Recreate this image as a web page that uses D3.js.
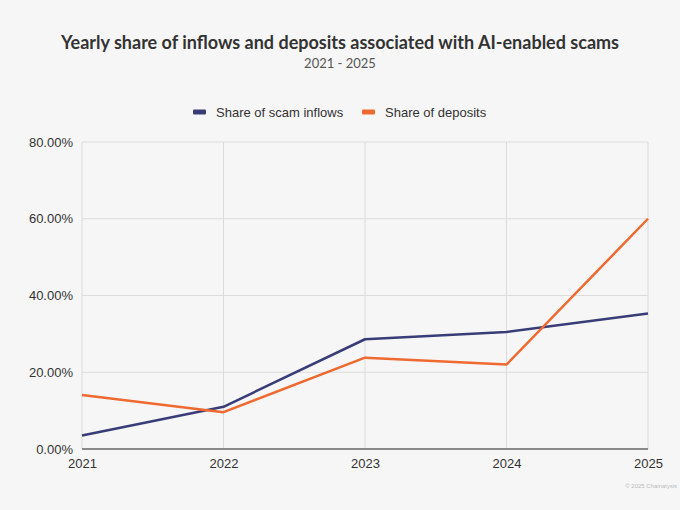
<!DOCTYPE html>
<html>
<head>
<meta charset="utf-8">
<script src="https://cdn.jsdelivr.net/npm/d3@7"></script>
<style>
  html, body { margin: 0; padding: 0; background: #f6f6f6; }
  svg { display: block; }
</style>
</head>
<body>
<div id="chart"></div>
<script>
// Chart values
const years = [2021, 2022, 2023, 2024, 2025];
const scamInflows = [3.5, 11.0, 28.6, 30.5, 35.3];
const deposits = [14.1, 9.6, 23.8, 22.0, 60.0];
const yTicks = [0, 20, 40, 60, 80];
const seriesNames = ['Share of scam inflows', 'Share of deposits'];
const seriesColors = ['#383d78', '#ef6a30'];

const width = 680;
const height = 510;
const margin = {top: 142, right: 32, bottom: 61, left: 82};

const svg = d3.select('#chart')
  .append('svg')
  .attr('width', width)
  .attr('height', height)
  .style('background', '#f6f6f6');

// Title block
svg.append('text')
  .text('Yearly share of inflows and deposits associated with AI-enabled scams')
  .attr('x', 340)
  .attr('y', 49)
  .style('text-anchor', 'middle')
  .style('font-family', 'Lato, "Noto Sans", sans-serif')
  .style('font-weight', 700)
  .style('font-size', '18px')
  .style('fill', '#333');

svg.append('text')
  .text('2021 - 2025')
  .attr('x', 340)
  .attr('y', 68)
  .style('text-anchor', 'middle')
  .style('font-family', 'Lato, "Noto Sans", sans-serif')
  .style('font-size', '13px')
  .style('fill', '#555');

// Scales
const x = d3.scaleLinear()
  .domain(d3.extent(years))
  .range([margin.left, width - margin.right]);
const y = d3.scaleLinear()
  .domain([0, 80])
  .range([height - margin.bottom, margin.top]);

const axisFont = '"Liberation Sans", Arial, sans-serif';

// Horizontal grid
svg.append('g')
  .selectAll('line')
  .data(yTicks)
  .enter()
  .append('line')
  .attr('x1', x.range()[0])
  .attr('x2', x.range()[1])
  .attr('y1', d => y(d))
  .attr('y2', d => y(d))
  .style('stroke', '#dcdcdc')
  .style('stroke-width', 1);

// Vertical grid
svg.append('g')
  .selectAll('line')
  .data(years)
  .enter()
  .append('line')
  .attr('x1', d => x(d))
  .attr('x2', d => x(d))
  .attr('y1', y(80))
  .attr('y2', y(0))
  .style('stroke', '#dcdcdc')
  .style('stroke-width', 1);

// Baseline
svg.append('line')
  .attr('x1', x.range()[0])
  .attr('x2', x.range()[1])
  .attr('y1', y(0))
  .attr('y2', y(0))
  .style('stroke', '#8a8a8a')
  .style('stroke-width', 2);

// Y axis labels
const yAxis = svg.append('g')
  .attr('transform', `translate(${margin.left - 6}, 0)`)
  .call(d3.axisLeft(y).tickValues(yTicks).tickSize(0).tickFormat(d => d.toFixed(2) + '%'));
yAxis.select('.domain').remove();
yAxis.selectAll('text')
  .style('font-family', axisFont)
  .style('font-size', '13px')
  .style('fill', '#333');

// X axis labels
const xAxis = svg.append('g')
  .attr('transform', `translate(0, ${y(0) + 7})`)
  .call(d3.axisBottom(x).tickValues(years).tickSize(0).tickFormat(d3.format('d')));
xAxis.select('.domain').remove();
xAxis.selectAll('text')
  .style('font-family', axisFont)
  .style('font-size', '13px')
  .style('fill', '#333');

// Lines
const line = d3.line()
  .x((d, i) => x(years[i]))
  .y(d => y(d));

[scamInflows, deposits].forEach((s, i) => {
  svg.append('path')
    .datum(s)
    .attr('d', line)
    .style('fill', 'none')
    .style('stroke', seriesColors[i])
    .style('stroke-width', 2.5)
    .style('stroke-linejoin', 'round');
});

// Legend
const legendX = [193, 362];
const legend = svg.append('g')
  .selectAll('g')
  .data(seriesNames)
  .enter()
  .append('g')
  .attr('transform', (d, i) => `translate(${legendX[i]}, 112)`);
legend.append('rect')
  .attr('x', 0)
  .attr('y', -2.5)
  .attr('width', 13)
  .attr('height', 5)
  .attr('rx', 1)
  .style('fill', (d, i) => seriesColors[i]);
legend.append('text')
  .text(d => d)
  .attr('x', 23)
  .attr('y', 4.5)
  .style('font-family', axisFont)
  .style('font-size', '13px')
  .style('fill', '#333');

// Source note at the bottom right
svg.append('text')
  .text('© 2025 Chainalysis')
  .attr('x', 677)
  .attr('y', 488)
  .style('text-anchor', 'end')
  .style('font-family', axisFont)
  .style('font-size', '6px')
  .style('fill', '#bbb');
</script>
</body>
</html>
